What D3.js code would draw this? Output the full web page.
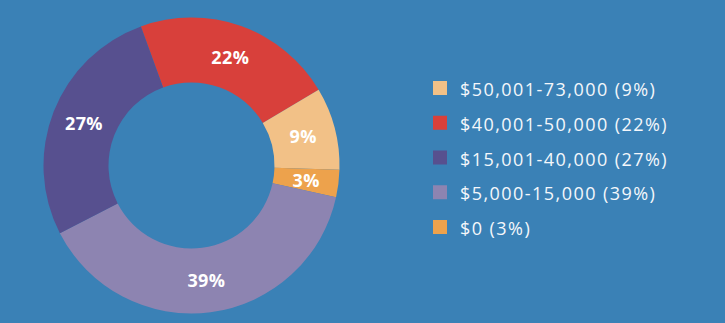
<!DOCTYPE html>
<html>
<head>
<meta charset="utf-8">
<script src="https://cdn.jsdelivr.net/npm/d3@7"></script>
<style>
  html, body { margin: 0; padding: 0; background: #3a81b6; }
  svg { display: block; }
</style>
</head>
<body>
<svg id="chart" width="725" height="323"></svg>
<script>
// Income brackets, drawn clockwise starting with the red slice
const categories = ["$40,001-50,000", "$50,001-73,000", "$0", "$5,000-15,000", "$15,001-40,000"];
const shares = [22, 9, 3, 39, 27];
const colors = ["#d8403b", "#f2c187", "#eda24c", "#8d84b1", "#57508f"];

// Legend order (top to bottom)
const legendOrder = ["$50,001-73,000", "$40,001-50,000", "$15,001-40,000", "$5,000-15,000", "$0"];

const svg = d3.select("#chart");
const W = 725, H = 323;
svg.append("rect").attr("width", W).attr("height", H).attr("fill", "#3a81b6");

const cx = 191.5, cy = 165.5, rOuter = 148, rInner = 83;
const data = categories.map((c, i) => ({ cat: c, value: shares[i], color: colors[i] }));

const startA = -20 * Math.PI / 180;
const pie = d3.pie().value(d => d.value).sort(null)
  .startAngle(startA).endAngle(startA + 2 * Math.PI);
const arc = d3.arc().innerRadius(rInner).outerRadius(rOuter);

const g = svg.append("g").attr("transform", `translate(${cx},${cy})`);
const arcs = pie(data);

g.selectAll("path.slice").data(arcs).join("path")
  .attr("class", "slice")
  .attr("d", arc)
  .attr("fill", d => d.data.color);

g.selectAll("text.pct").data(arcs).join("text")
  .attr("class", "pct")
  .attr("transform", d => `translate(${arc.centroid(d)})`)
  .attr("text-anchor", "middle")
  .attr("dominant-baseline", "central")
  .attr("fill", "#ffffff")
  .attr("font-family", "'Open Sans', sans-serif")
  .attr("font-weight", 700)
  .attr("font-size", 18)
  .attr("letter-spacing", 0.4)
  .text(d => d.data.value + "%");

// Legend
const byCat = new Map(data.map(d => [d.cat, d]));
const legendY = d3.scalePoint().domain(legendOrder).range([88, 227]);
const leg = svg.append("g");
const rows = leg.selectAll("g").data(legendOrder.map(c => byCat.get(c))).join("g")
  .attr("transform", d => `translate(433,${legendY(d.cat)})`);
rows.append("rect")
  .attr("x", 0).attr("y", -7).attr("width", 14).attr("height", 14)
  .attr("fill", d => d.color);
rows.append("text")
  .attr("x", 27).attr("y", 1)
  .attr("dominant-baseline", "central")
  .attr("fill", "#f4f7fb")
  .attr("font-family", "'Open Sans', sans-serif")
  .attr("font-size", 18)
  .attr("letter-spacing", 1.45)
  .text(d => `${d.cat} (${d.value}%)`);
</script>
</body>
</html>
